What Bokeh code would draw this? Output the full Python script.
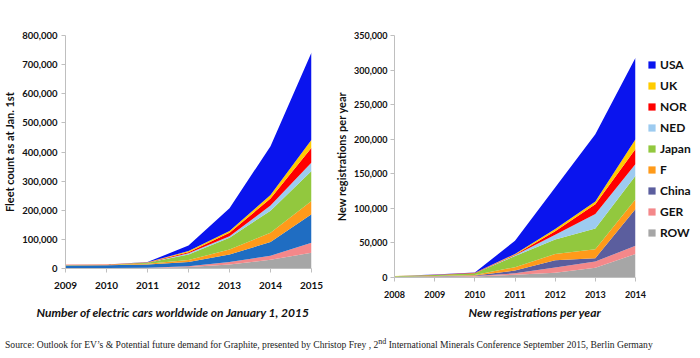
from bokeh.plotting import figure
from bokeh.models import (ColumnDataSource, Legend, LegendItem, NumeralTickFormatter,
                          Title, Div, FixedTicker)
from bokeh.layouts import row, column
from bokeh.embed import file_html
from bokeh.resources import INLINE

# ---- data ----
series = ["ROW", "GER", "China", "F", "Japan", "NED", "NOR", "UK", "USA"]

# Fleet count as at Jan 1st
fleet_years = [2009, 2010, 2011, 2012, 2013, 2014, 2015]
fleet_ROW   = [1000, 1000, 2000, 5000, 14000, 30000, 54000]
fleet_GER   = [500, 500, 1000, 3000, 8000, 14000, 34000]
fleet_China = [9000, 10000, 11000, 14000, 26000, 47000, 98000]
fleet_F     = [1000, 1000, 2500, 7000, 17000, 32000, 46000]
fleet_Japan = [500, 500, 3000, 19000, 41000, 75000, 103000]
fleet_NED   = [200, 200, 500, 4000, 5000, 18000, 29000]
fleet_NOR   = [300, 300, 800, 4000, 12000, 24000, 51000]
fleet_UK    = [300, 300, 700, 4000, 6000, 12000, 27000]
fleet_USA   = [200, 200, 500, 19000, 78000, 168000, 300000]

# New registrations per year
reg_years = [2008, 2009, 2010, 2011, 2012, 2013, 2014]
reg_ROW   = [800, 1200, 1500, 4000, 7000, 14000, 34000]
reg_GER   = [100, 200, 500, 2000, 7500, 9000, 12000]
reg_China = [200, 500, 1000, 4000, 10500, 5000, 53000]
reg_F     = [100, 200, 500, 5000, 9000, 13000, 14000]
reg_Japan = [600, 1500, 2500, 16000, 21000, 30000, 34000]
reg_NED   = [50, 100, 200, 1000, 7000, 21000, 17000]
reg_NOR   = [100, 200, 500, 1000, 5000, 14000, 22000]
reg_UK    = [100, 100, 300, 1000, 3000, 4000, 14000]
reg_USA   = [100, 200, 300, 19000, 60000, 97000, 118000]

colors_left = ["#A6A6A6", "#F4888A", "#1F6DC2", "#FF9A1A", "#92C83E",
               "#9DCBF0", "#FF0000", "#FFCC00", "#0A14EE"]
colors_right = ["#A6A6A6", "#F4888A", "#5B5E9E", "#FF9A1A", "#92C83E",
                "#9DCBF0", "#FF0000", "#FFCC00", "#0A14EE"]

FONT = "Lato"

def style(p, label_size):
    for ax in (p.xaxis[0], p.yaxis[0]):
        ax.axis_line_color = "#BFBFBF"
        ax.major_tick_line_color = "#BFBFBF"
        ax.minor_tick_line_color = None
        ax.major_tick_in = 0
        ax.major_tick_out = 4
        ax.major_label_text_font = FONT
        ax.major_label_text_font_style = "bold"
        ax.major_label_text_font_size = label_size
        ax.major_label_text_color = "#111111"
        ax.axis_label_text_font = FONT
        ax.axis_label_text_font_style = "bold"
        ax.axis_label_text_font_size = "11px"
        ax.axis_label_text_color = "#111111"
    p.xgrid.visible = False
    p.ygrid.visible = False
    p.outline_line_color = None
    p.yaxis[0].formatter = NumeralTickFormatter(format="0,0")

# ---- left chart ----
src_l = ColumnDataSource(dict(year=fleet_years, ROW=fleet_ROW, GER=fleet_GER,
                              China=fleet_China, F=fleet_F, Japan=fleet_Japan,
                              NED=fleet_NED, NOR=fleet_NOR, UK=fleet_UK, USA=fleet_USA))
p1 = figure(frame_width=246, frame_height=233, x_range=(2009, 2015), y_range=(0, 800000),
            output_backend="svg", toolbar_location=None,
            min_border_left=59, min_border_right=21, min_border_top=33, min_border_bottom=64)
p1.varea_stack(stackers=series, x="year", color=colors_left, source=src_l)
style(p1, "9.5px")
p1.xaxis[0].major_label_text_font_size = "10px"
p1.xaxis[0].ticker = FixedTicker(ticks=fleet_years)
p1.xaxis[0].major_label_standoff = 9
p1.yaxis[0].ticker = FixedTicker(ticks=list(range(0, 800001, 100000)))
p1.yaxis[0].major_label_standoff = 4
p1.yaxis[0].axis_label = "Fleet count as at Jan. 1st"
p1.yaxis[0].axis_label_standoff = 3
t1 = Title(text="Number of electric cars worldwide on January 1, 2015", align="left",
           offset=-29, standoff=22, text_font=FONT, text_font_style="bold italic",
           text_font_size="12px", text_color="#111111")
p1.add_layout(t1, "below")

# ---- right chart ----
src_r = ColumnDataSource(dict(year=reg_years, ROW=reg_ROW, GER=reg_GER,
                              China=reg_China, F=reg_F, Japan=reg_Japan,
                              NED=reg_NED, NOR=reg_NOR, UK=reg_UK, USA=reg_USA))
p2 = figure(frame_width=241, frame_height=242, x_range=(2008, 2014), y_range=(0, 350000),
            output_backend="svg", toolbar_location=None,
            min_border_left=58, min_border_right=14, min_border_top=35, min_border_bottom=53)
rs = p2.varea_stack(stackers=series, x="year", color=colors_right, source=src_r)
style(p2, "9px")
p2.xaxis[0].ticker = FixedTicker(ticks=reg_years)
p2.xaxis[0].major_label_standoff = 9
p2.yaxis[0].ticker = FixedTicker(ticks=list(range(0, 350001, 50000)))
p2.yaxis[0].major_label_standoff = 3
p2.yaxis[0].axis_label = "New registrations per year"
p2.yaxis[0].axis_label_standoff = 3
t2 = Title(text="New registrations per year", align="left", offset=74, standoff=4,
           text_font=FONT, text_font_style="bold italic", text_font_size="12px",
           text_color="#111111")
p2.add_layout(t2, "below")

items = [LegendItem(label=name, renderers=[r]) for name, r in zip(series, rs)][::-1]
legend = Legend(items=items, location=(12, 37), border_line_color=None,
                background_fill_alpha=0, padding=0, margin=0, spacing=6,
                label_height=14, glyph_height=9, glyph_width=9, label_standoff=4,
                label_text_font=FONT, label_text_font_style="bold",
                label_text_font_size="12px", label_text_color="#111111")
p2.add_layout(legend, "right")

src_text = ("Source: Outlook for EV\u2019s &amp; Potential future demand for Graphite, presented by "
            "Christop Frey , 2<sup>nd</sup> International Minerals Conference September 2015, Berlin Germany")
div = Div(text=src_text, width=684, height=24,
          styles={"font-family": "Liberation Serif", "font-size": "9.6px", "color": "#222222",
                  "white-space": "nowrap", "padding-top": "1px"})

layout = column(row(p1, p2, spacing=0), div, spacing=0)
open("out.html", "w").write(file_html(layout, INLINE))
